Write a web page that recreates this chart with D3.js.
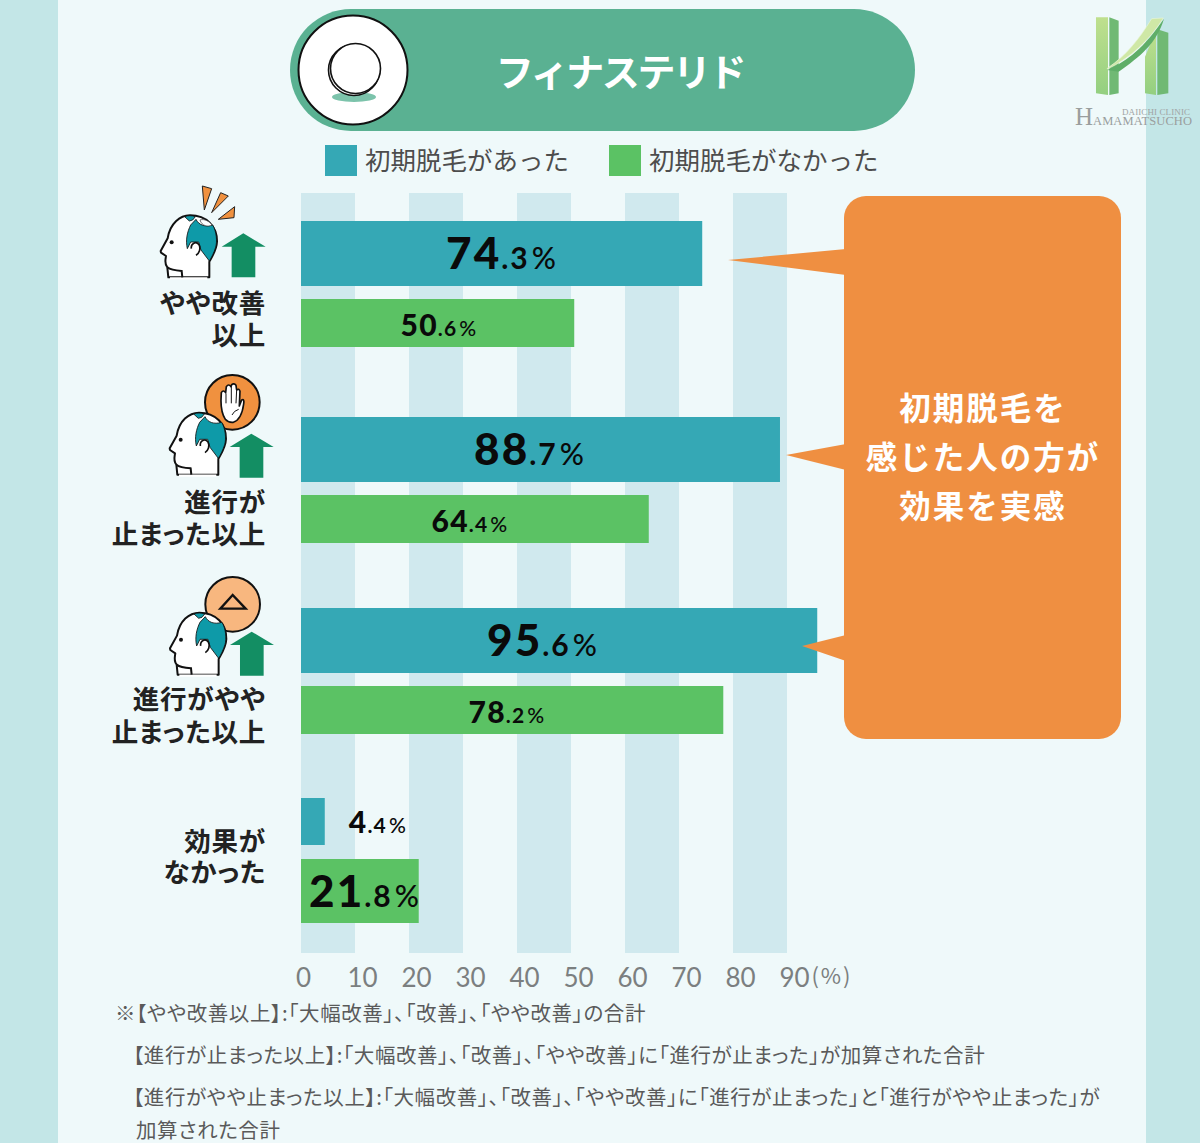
<!DOCTYPE html>
<html lang="ja">
<head>
<meta charset="utf-8">
<script src="https://cdn.jsdelivr.net/npm/d3@7/dist/d3.min.js"></script>
<style>
html,body{margin:0;padding:0;background:#eff9fa;}
svg{display:block;}
text{font-family:"Noto Sans CJK JP","Noto Sans",sans-serif;}
.note,.cat{font-feature-settings:"palt";}
</style>
</head>
<body>
<div id="chart"></div>
<script>
// Survey results: perceived effect of finasteride, split by early hair shedding
const categories = ["moderate", "halted", "slowed", "none"];
const categoryLines = [["やや改善", "以上"], ["進行が", "止まった以上"], ["進行がやや", "止まった以上"], ["効果が", "なかった"]];
const sheddingYes = [74.3, 88.7, 95.6, 4.4];
const sheddingNo = [50.6, 64.4, 78.2, 21.8];
const seriesNames = ["初期脱毛があった", "初期脱毛がなかった"];
const tickValues = [0, 10, 20, 30, 40, 50, 60, 70, 80, 90];
const calloutLines = ["初期脱毛を", "感じた人の方が", "効果を実感"];
const footnotes = [
  "※【やや改善以上】:「大幅改善」、「改善」、「やや改善」の合計",
  "【進行が止まった以上】:「大幅改善」、「改善」、「やや改善」に「進行が止まった」が加算された合計",
  "【進行がやや止まった以上】:「大幅改善」、「改善」、「やや改善」に「進行が止まった」と「進行がやや止まった」が",
  "加算された合計"
];

const W = 1200, H = 1143;
const teal = "#35a8b5", green = "#5bc264", orange = "#ef8f41", band = "#d0e9ee";
const svg = d3.select("#chart").append("svg").attr("width", W).attr("height", H).attr("viewBox", [0, 0, W, H]);

// page background with side strips
svg.append("rect").attr("width", W).attr("height", H).attr("fill", "#eff9fa");
svg.append("rect").attr("width", 58).attr("height", H).attr("fill", "#c3e6e7");
svg.append("rect").attr("x", 1146).attr("width", 54).attr("height", H).attr("fill", "#c3e6e7");

const x = d3.scaleLinear().domain([0, 90]).range([301, 787]);

// alternating background columns
const plotTop = 193, plotBottom = 953;
svg.append("g").selectAll("rect").data(tickValues.filter(t => t % 20 === 0 && t < 90)).join("rect")
  .attr("x", d => x(d)).attr("y", plotTop)
  .attr("width", d => x(d + 10) - x(d)).attr("height", plotBottom - plotTop)
  .attr("fill", band);

// logo: extruded H with a sweeping crossbar, authored in a 3x coordinate space
const defs = svg.append("defs");
const lg = defs.append("linearGradient").attr("id", "logoGreen").attr("x1", 0).attr("y1", 0).attr("x2", 0).attr("y2", 1);
lg.append("stop").attr("offset", 0).attr("stop-color", "#bfe08e");
lg.append("stop").attr("offset", 1).attr("stop-color", "#93cf80");
const logo = svg.append("g");
const mark = logo.append("g").attr("transform", "translate(1050,0) scale(0.3333)");
mark.append("path").attr("fill", "#70b974").attr("d", "M178,52 L206,62 L206,280 L178,285Z");
mark.append("path").attr("fill", "#70b974").attr("d", "M322,88 L355,98 L355,280 L322,285Z");
mark.append("path").attr("fill", "url(#logoGreen)").attr("d", "M138,52 L174,52 L174,285 L138,280Z");
mark.append("path").attr("fill", "url(#logoGreen)").attr("d", "M285,170 L318,92 L318,285 L285,280Z");
mark.append("path").attr("fill", "#5fae68").attr("d", "M172,210 C235,180 280,145 342,56 C320,130 270,170 206,215Z");
mark.append("path").attr("fill", "#cfe8a6").attr("stroke", "#e9f4d8").attr("stroke-width", 2)
  .attr("d", "M172,205 C230,165 265,120 305,56 L340,54 C300,120 240,175 172,207Z");
logo.append("text").attr("x", 1122).attr("y", 115).attr("font-size", 9).attr("textLength", 68).attr("fill", "#a0a4a4")
  .style("font-family", "Liberation Serif").text("DAIICHI CLINIC");
logo.append("text").attr("x", 1075).attr("y", 124.5).attr("font-size", 25).attr("fill", "#9a9e9e")
  .style("font-family", "Liberation Serif").text("H");
logo.append("text").attr("x", 1093).attr("y", 124.5).attr("font-size", 12.5).attr("textLength", 99).attr("fill", "#9a9e9e")
  .style("font-family", "Liberation Serif").text("AMAMATSUCHO");

// title banner
svg.append("rect").attr("x", 290).attr("y", 9).attr("width", 625).attr("height", 122).attr("rx", 61).attr("fill", "#5ab192");
svg.append("circle").attr("cx", 353).attr("cy", 70).attr("r", 54.5).attr("fill", "#fff").attr("stroke", "#111").attr("stroke-width", 2);
svg.append("ellipse").attr("cx", 354).attr("cy", 97).attr("rx", 22).attr("ry", 5).attr("fill", "#7cc3ab");
svg.append("circle").attr("cx", 354).attr("cy", 70).attr("r", 25.5).attr("fill", "#fff").attr("stroke", "#111").attr("stroke-width", 1.6);
svg.append("circle").attr("cx", 355.5).attr("cy", 68.5).attr("r", 25).attr("fill", "#fff").attr("stroke", "#111").attr("stroke-width", 1.6);
svg.append("text").attr("x", 620).attr("y", 86).attr("text-anchor", "middle").attr("font-size", 38).attr("font-weight", 700)
  .attr("fill", "#fff").attr("letter-spacing", -2.4).text("フィナステリド");

// legend
const legendX = d3.scaleOrdinal().domain(seriesNames).range([325, 609]);
const legend = svg.append("g").selectAll("g").data(seriesNames).join("g")
  .attr("transform", d => `translate(${legendX(d)},145)`);
legend.append("rect").attr("width", 32).attr("height", 31).attr("fill", (d, i) => i ? green : teal);
legend.append("text").attr("x", 40).attr("y", 25).attr("font-size", 25.5).attr("fill", "#4d4d4d").text(d => d);

// callout box with tails pointing at each highlighted bar (drawn after the bars)
function drawCallout() {
  const g = svg.append("g");
  g.append("rect").attr("x", 844).attr("y", 196).attr("width", 277).attr("height", 543).attr("rx", 22).attr("fill", orange);
  const tailY = d3.scaleOrdinal().domain(categories.slice(0, 3)).range([260, 455, 646]);
  const tailTip = d3.scaleOrdinal().domain(categories.slice(0, 3)).range([728, 786, 802]);
  g.selectAll("path").data(categories.slice(0, 3)).join("path").attr("fill", orange)
    .attr("d", d => `M${tailTip(d)},${tailY(d)} L846,${tailY(d) - 11} L846,${tailY(d) + 15}Z`);
  g.selectAll("text").data(calloutLines).join("text")
    .attr("x", 983).attr("y", (d, i) => 420 + i * 49).attr("text-anchor", "middle")
    .attr("font-size", 31.5).attr("font-weight", 700).attr("fill", "#fff").attr("letter-spacing", 2).text(d => d);
}

// bars
const rowY = d3.scaleOrdinal().domain(categories).range([221, 417, 608, 798]);
const gapY = d3.scaleOrdinal().domain(categories).range([78, 78, 78, 61]);
const tallYes = d3.scaleOrdinal().domain(categories).range([65, 65, 65, 47]);
const tallNo = d3.scaleOrdinal().domain(categories).range([48, 48, 48, 64]);
const bars = categories.flatMap((c, i) => [
  {c, v: sheddingYes[i], y: rowY(c), h: tallYes(c), color: teal},
  {c, v: sheddingNo[i], y: rowY(c) + gapY(c), h: tallNo(c), color: green}
]);
svg.append("g").selectAll("rect").data(bars).join("rect")
  .attr("x", x(0)).attr("y", d => d.y).attr("width", d => x(d.v) - x(0)).attr("height", d => d.h).attr("fill", d => d.color);

// value labels: integer part large, decimal part and percent smaller
const labelCenter = d3.scaleOrdinal().domain(sheddingYes.concat(sheddingNo)).range([502, 530, 543, 378, 439, 470, 507, 365]);
svg.append("g").selectAll("text").data(bars).join("text")
  .attr("x", d => labelCenter(d.v))
  .attr("y", d => d.y + d.h / 2 + d.h * 0.23 + (d.h > 60 ? 1 : d.h === 47 ? 1 : 2))
  .attr("text-anchor", "middle").attr("fill", "#0a0a0a")
  .attr("letter-spacing", d => d.h > 60 ? 2 : 1.2)
  .style("font-family", "Lato").attr("font-weight", 900)
  .each(function(d) {
    const large = d.h > 60;
    const [a, b] = d.v.toFixed(1).split(".");
    const s = d3.select(this);
    s.append("tspan").attr("font-size", large ? 44 : 30).text(a);
    s.append("tspan").attr("font-size", large ? 30 : 21).attr("font-weight", 700).text("." + b);
    s.append("tspan").attr("font-size", large ? 30 : 21).attr("dx", 2).attr("font-weight", 500).text("%");
  });

// category labels
const labelBase = d3.scaleOrdinal().domain(categories).range([313, 512, 709, 851]);
const lineGap = d3.scaleOrdinal().domain(categories).range([32, 32, 33, 31]);
svg.append("g").selectAll("g").data(categories).join("g")
  .each(function(c, i) {
    d3.select(this).selectAll("text").data(categoryLines[i]).join("text").attr("class", "cat")
      .attr("x", 266).attr("y", (d, j) => labelBase(c) + j * lineGap(c))
      .attr("text-anchor", "end").attr("font-size", 26.5).attr("font-weight", 700).attr("letter-spacing", 0.8).attr("fill", "#222").text(d => d);
  });

// head icon, authored in a 3x coordinate space
function head(g) {
  g.append("path").attr("fill", "#fff").attr("stroke", "#111").attr("stroke-width", 6).attr("stroke-linejoin", "round")
    .attr("d", "M205,322 L202,292 C192,280 197,268 198,258 L183,248 L182,243 L203,205 C210,160 240,136 270,136 C320,136 352,170 351,215 C350,240 335,262 328,275 L328,322 Z");
  g.append("path").attr("fill", "#fff").attr("stroke", "#fff").attr("stroke-width", 7).attr("d", "M210,325 L322,325");
  g.append("path").attr("fill", "none").attr("stroke", "#111").attr("stroke-width", 6)
    .attr("d", "M202,292 C212,300 232,302 245,303 L247,322");
  g.append("path").attr("fill", "#0e9aa8").attr("stroke", "#111").attr("stroke-width", 2.5)
    .attr("d", "M272,165 L288,148 C296,165 315,172 338,165 C350,185 352,215 347,232 C342,248 335,262 328,273 L303,240 L296,216 L272,216 L262,236 C256,210 262,185 272,165Z");
  g.append("path").attr("fill", "#0e9aa8").attr("stroke", "#111").attr("stroke-width", 2.5)
    .attr("d", "M254,140 C265,136 275,136 286,140 L278,150 L268,153Z");
  g.append("path").attr("fill", "none").attr("stroke", "#111").attr("stroke-width", 5)
    .attr("d", "M274,236 C272,220 288,212 297,224 C303,236 298,250 288,256");
  g.append("circle").attr("cx", 215).attr("cy", 217).attr("r", 6).attr("fill", "#111");
}
function arrow(g) {
  g.append("path").attr("fill", "#138e63")
    .attr("d", "M365,230 L430,190 L497,230 L466,230 L466,322 L395,322 L395,230Z");
}

// icon: hair growing back
const i1 = svg.append("g").attr("transform", "translate(100,170) scale(0.3333)");
i1.selectAll("path.spark").data([
  "M307,48 L335,56 L313,120Z", "M362,68 L385,78 L335,128Z", "M404,110 L402,143 L355,148Z"
]).join("path").attr("class", "spark").attr("d", d => d).attr("fill", "#f0913f").attr("stroke", "#222").attr("stroke-width", 3);
head(i1);
i1.append("path").attr("fill", "#fff").attr("stroke", "#333").attr("stroke-width", 2)
  .attr("d", "M300,150 C312,145 330,155 336,165 C325,172 305,168 300,150Z");
arrow(i1);

// icon: progression halted
const i2 = svg.append("g").attr("transform", "translate(100,370) scale(0.3333)");
i2.append("circle").attr("cx", 397).attr("cy", 97).attr("r", 82).attr("fill", "#f0913f").attr("stroke", "#111").attr("stroke-width", 6);
i2.append("path").attr("fill", "#fff").attr("stroke", "#111").attr("stroke-width", 5).attr("stroke-linejoin", "round")
  .attr("d", "M376,148 C366,132 363,110 363,92 L364,68 Q370,58 377,68 L379,50 Q386,40 393,50 L395,44 Q402,38 408,46 L410,60 Q417,54 420,64 L418,108 L425,90 Q434,86 431,102 C428,125 420,150 400,157 C390,158 382,155 376,148Z");
i2.append("path").attr("fill", "none").attr("stroke", "#111").attr("stroke-width", 3)
  .attr("d", "M378,70 L378,100 M394,50 L394,100 M410,60 L408,100 M396,135 Q402,122 416,118");
i2.append("g").attr("transform", "translate(27,-8)").call(head);
i2.append("g").attr("transform", "translate(24,1)").call(arrow);

// icon: progression somewhat slowed
const i3 = svg.append("g").attr("transform", "translate(100,370) scale(0.3333)");
i3.append("circle").attr("cx", 398).attr("cy", 703).attr("r", 82).attr("fill", "#f8b77f").attr("stroke", "#111").attr("stroke-width", 6);
i3.append("path").attr("fill", "none").attr("stroke", "#111").attr("stroke-width", 7).attr("stroke-linejoin", "miter")
  .attr("d", "M398,675 L361,716 L437,716Z");
i3.append("g").attr("transform", "translate(28,592)").call(head);
i3.append("g").attr("transform", "translate(25,595)").call(arrow);

// value axis
const axis = d3.axisBottom(x).tickValues(tickValues).tickSize(0).tickPadding(0);
const axisG = svg.append("g").attr("transform", "translate(0,969)").call(axis);
axisG.select(".domain").remove();
axisG.selectAll("text").attr("font-size", 26).attr("fill", "#7b7f80").style("font-family", "Lato")
  .attr("dx", d => d === 0 ? 2 : 7).attr("dy", "0.71em").attr("y", 0);
svg.append("text").attr("x", 832).attr("y", 984).attr("text-anchor", "middle").attr("font-size", 22).attr("letter-spacing", 2).attr("fill", "#7b7f80").text("(%)");

drawCallout();

// footnotes
const noteX = [115, 133, 133, 136], noteY = [1021, 1063, 1105, 1138];
svg.append("g").selectAll("text").data(footnotes).join("text").attr("class", "note")
  .attr("x", (d, i) => noteX[i]).attr("y", (d, i) => noteY[i])
  .attr("font-size", 20.5).attr("letter-spacing", 0.6).attr("fill", "#5a5a5a").text(d => d);
</script>
</body>
</html>
